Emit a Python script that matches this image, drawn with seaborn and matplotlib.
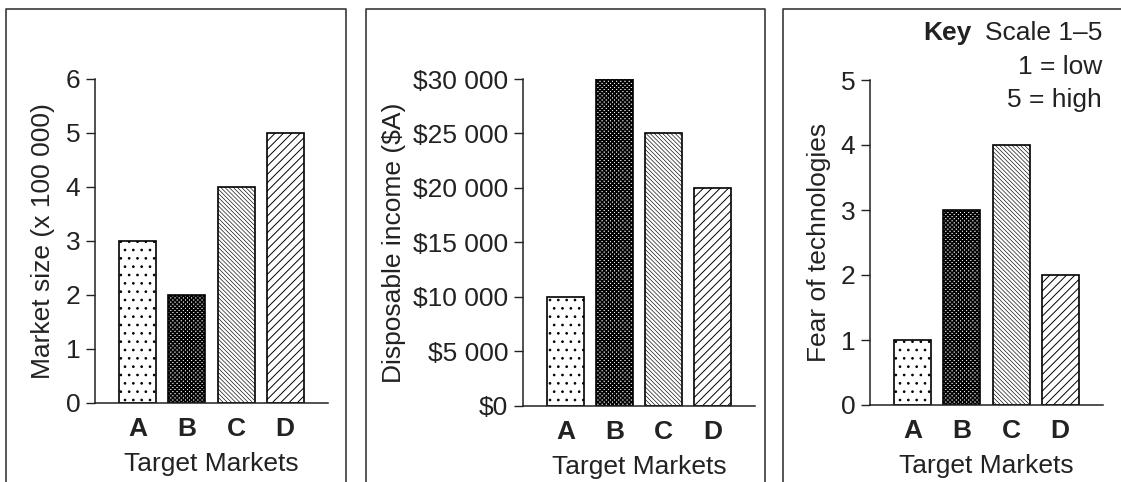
import pandas as pd
import numpy as np
import seaborn as sns
import matplotlib.pyplot as plt
from matplotlib.lines import Line2D
from matplotlib.ticker import FuncFormatter

# Data
markets = ['A', 'B', 'C', 'D']
market_size = [3, 2, 4, 5]                       # x 100 000
disposable_income = [10000, 30000, 25000, 20000]  # $A
fear_of_tech = [1, 3, 4, 2]                       # scale 1-5

size_ticks = [0, 1, 2, 3, 4, 5, 6]
income_ticks = [0, 5000, 10000, 15000, 20000, 25000, 30000]
fear_ticks = [0, 1, 2, 3, 4, 5]

hatches = ['..', 'xxxxxxxx', '\\\\\\\\\\\\\\\\', '////']
hatch_lw = [0.7, 1.2, 0.45, 0.7]

sns.set_style('white')
plt.rcParams['font.family'] = ['Liberation Sans', 'DejaVu Sans']
plt.rcParams['hatch.linewidth'] = 0.7
ink = '#222222'
fs = 19

fig = plt.figure(figsize=(11.21, 4.82), dpi=100)

W, H = 1121, 482


def px_axes(left, right, top, bottom):
    return fig.add_axes([left / W, 1 - bottom / H, (right - left) / W, (bottom - top) / H])


def draw_panel(ax, values, ticks, ylabel, fmt=None, ylabelpad=8):
    df = pd.DataFrame({'market': markets, 'value': values})
    sns.barplot(data=df, x='market', y='value', color='white', edgecolor='black',
                linewidth=1.2, width=0.75, ax=ax, saturation=1)
    for patch, h, lw in zip(ax.patches, hatches, hatch_lw):
        patch.set_hatch(h)
        if hasattr(patch, 'set_hatch_linewidth'):
            patch.set_hatch_linewidth(lw)
    ax.set_xlim(-0.87, 3.87)
    ax.set_ylim(ticks[0], ticks[-1])
    ax.set_yticks(ticks)
    if fmt is not None:
        ax.yaxis.set_major_formatter(FuncFormatter(fmt))
    sns.despine(ax=ax)
    for side in ['left', 'bottom']:
        ax.spines[side].set_color(ink)
        ax.spines[side].set_linewidth(1.1)
    ax.tick_params(axis='y', which='major', direction='out', length=6.5, width=1.0,
                   color=ink, labelsize=fs, labelcolor=ink, pad=4, left=True)
    ax.tick_params(axis='x', length=0, labelsize=fs, labelcolor=ink, pad=10)
    for lbl in ax.get_xticklabels():
        lbl.set_fontweight('bold')
    ax.set_xlabel('Target Markets', fontsize=fs, color=ink, labelpad=8)
    ax.set_ylabel(ylabel, fontsize=fs, color=ink, labelpad=ylabelpad)


ax1 = px_axes(95, 328, 79, 403)
draw_panel(ax1, market_size, size_ticks, 'Market size (x 100 000)', ylabelpad=8)

ax2 = px_axes(523, 755, 79, 405.7)
draw_panel(ax2, disposable_income, income_ticks, 'Disposable income ($A)',
           fmt=lambda v, p: '$0' if v == 0 else '${:,.0f}'.format(v).replace(',', ' '),
           ylabelpad=5)

ax3 = px_axes(870, 1103, 80, 405)
draw_panel(ax3, fear_of_tech, fear_ticks, 'Fear of technologies', ylabelpad=7)

# key text in the third panel
fig.text(1102 / W, 1 - 33 / H, 'Scale 1\u20135', ha='right', va='center', fontsize=fs, color=ink)
fig.text(923 / W, 1 - 33 / H, 'Key', ha='left', va='center', fontsize=fs,
         fontweight='bold', color=ink)
fig.text(1102 / W, 1 - 67 / H, '1 = low', ha='right', va='center', fontsize=fs, color=ink)
fig.text(1102 / W, 1 - 100 / H, '5 = high', ha='right', va='center', fontsize=fs, color=ink)

# panel frames (open at the bottom)
frame = dict(color='#3a3a3a', linewidth=1.2)
top = 1 - 9 / H
for l, r in [(6, 346), (366, 765)]:
    fig.add_artist(Line2D([l / W, l / W, r / W, r / W], [0, top, top, 0], **frame))
fig.add_artist(Line2D([783 / W, 783 / W, 1.0], [0, top, top], **frame))

fig.savefig('out.png', dpi=100)
